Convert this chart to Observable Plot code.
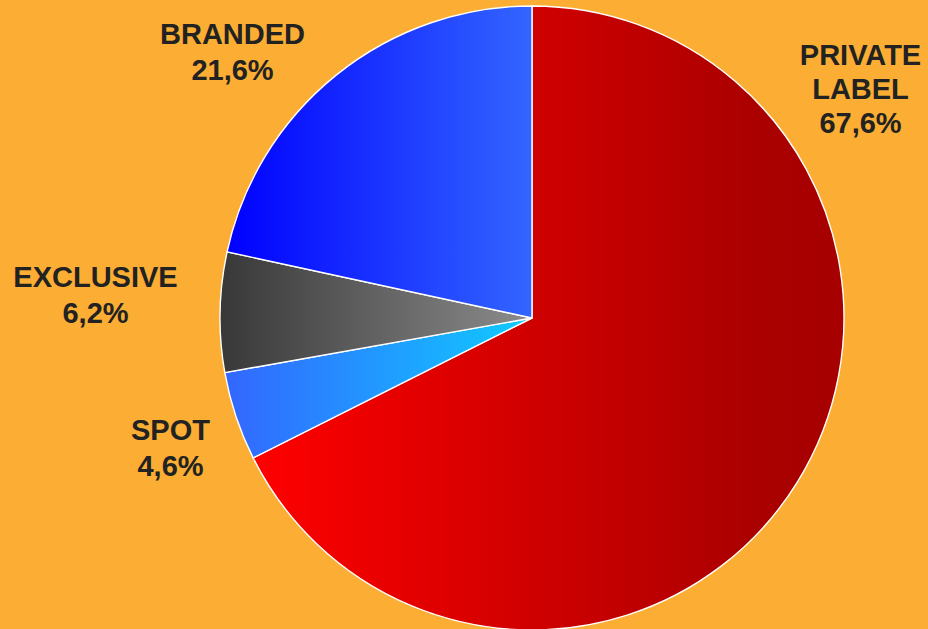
<!DOCTYPE html>
<html>
<head>
<meta charset="utf-8">
<script src="https://cdn.jsdelivr.net/npm/d3@7"></script>
<script src="https://cdn.jsdelivr.net/npm/@observablehq/plot@0.6"></script>
<style>
  html, body { margin: 0; padding: 0; background: #FBAE33; }
  #chart svg { display: block; }
</style>
</head>
<body>
<div id="chart"></div>
<script>
// ---- data ----
const categories = ["PRIVATE LABEL", "SPOT", "EXCLUSIVE", "BRANDED"];
const shares = [67.6, 4.6, 6.2, 21.6];
const shareLabels = ["67,6%", "4,6%", "6,2%", "21,6%"];

// ---- styling / layout (not data) ----
const gradients = [
  [[0, "#FF0000"], [0.85, "#AA0000"], [1, "#A60000"]],
  [[0, "#3366FF"], [1, "#10CCFF"]],
  [[0, "#383838"], [1, "#8C8C8C"]],
  [[0, "#0000FF"], [1, "#3366FF"]]
];
const W = 928, H = 629;
const pie = { cx: 532, cy: 318, r: 312 };
// label anchor (centre x, cap-top y) in pixel space
const labelLayout = [
  { x: 860, y: 40 },
  { x: 170, y: 414 },
  { x: 95, y: 261 },
  { x: 232, y: 18 }
];

const table = categories.map((c, i) => ({
  category: c,
  value: shares[i],
  text: c.replace(" ", "\n") + "\n" + shareLabels[i],
  x: labelLayout[i].x,
  y: labelLayout[i].y
}));

const arcs = d3.pie().sort(null).value(d => d.value)(table);

function pieMark(index, scales) {
  const svgNS = "http://www.w3.org/2000/svg";
  const g = document.createElementNS(svgNS, "g");
  const defs = document.createElementNS(svgNS, "defs");
  g.appendChild(defs);
  const cx = scales.x(pie.cx), cy = scales.y(pie.cy);
  const r = scales.x(pie.cx + pie.r) - scales.x(pie.cx);
  const arcGen = d3.arc().innerRadius(0).outerRadius(r);
  arcs.forEach((a, i) => {
    const lg = document.createElementNS(svgNS, "linearGradient");
    lg.setAttribute("id", "grad" + i);
    lg.setAttribute("x1", "0"); lg.setAttribute("x2", "1");
    lg.setAttribute("y1", "0"); lg.setAttribute("y2", "0");
    gradients[i].forEach(([o, c]) => {
      const s = document.createElementNS(svgNS, "stop");
      s.setAttribute("offset", o);
      s.setAttribute("stop-color", c);
      lg.appendChild(s);
    });
    defs.appendChild(lg);
  });
  arcs.forEach((a, i) => {
    const p = document.createElementNS(svgNS, "path");
    p.setAttribute("d", arcGen(a));
    p.setAttribute("transform", `translate(${cx},${cy})`);
    p.setAttribute("fill", `url(#grad${i})`);
    p.setAttribute("stroke", "#FFFFFF");
    p.setAttribute("stroke-width", "1.4");
    p.setAttribute("stroke-linejoin", "round");
    g.appendChild(p);
  });
  return g;
}

const textOpts = (lh) => ({
  x: "x", y: "y", text: "text",
  fill: "#222222",
  fontSize: 29,
  fontWeight: "bold",
  fontFamily: "'Liberation Sans', Arial, sans-serif",
  textAnchor: "middle",
  lineAnchor: "top",
  lineHeight: lh
});

const chart = Plot.plot({
  width: W,
  height: H,
  margin: 0,
  x: { domain: [0, W], range: [0, W], axis: null },
  y: { domain: [0, H], range: [0, H], axis: null },
  style: { background: "#FBAE33", overflow: "visible" },
  marks: [
    pieMark,
    Plot.text(table.filter((d, i) => i === 0), textOpts(1.18)),
    Plot.text(table.filter((d, i) => i !== 0), textOpts(1.24))
  ]
});
document.getElementById("chart").appendChild(chart);
</script>
</body>
</html>
